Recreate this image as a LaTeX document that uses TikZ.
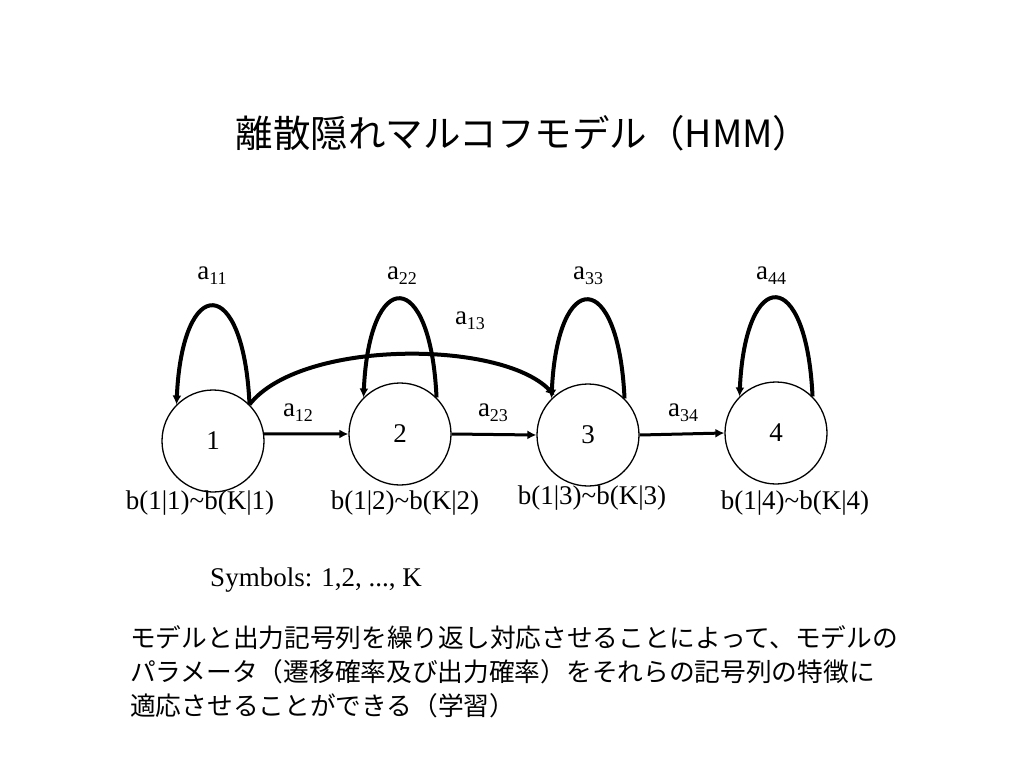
\documentclass[tikz,border=0pt]{standalone}
\usepackage{fontspec}
\setmainfont{Liberation Serif}
\newfontfamily\jpfont{Noto Sans CJK JP}
\usetikzlibrary{arrows.meta}
\tikzset{hmmstate/.style={circle, draw, line width=1.3pt, minimum size=102pt, inner sep=0pt}}
\tikzset{trans/.style={line width=4pt, -{Latex[length=9pt,width=9pt]}}}
\tikzset{fwd/.style={line width=3pt, -{Latex[length=9pt,width=9pt]}}}
\tikzset{lab/.style={inner sep=0pt, font=\fontsize{27}{27}\selectfont}}
\newcommand{\lowidx}[1]{\raisebox{-5pt}{\fontsize{18}{18}\selectfont #1}}

\begin{document}
\begin{tikzpicture}[x=1pt,y=-1pt]
  \useasboundingbox (0,0) rectangle (1024,768);
  \node[inner sep=0pt, font=\jpfont\fontsize{37.5}{37.5}\selectfont] (title) at (523,133) {離散隠れマルコフモデル（HMM）};

  \foreach \x/\y/\lab in {
    213/441/1,
    400/434/2,
    588/435/3,
    776/433/4%
  } {
    \node[hmmstate, lab] (s\lab) at (\x, \y) {\lab};
  }

  % output probabilities
  \foreach \x/\y/\lab in {
    200/503/1,
    405/503/2,
    592/498/3,
    795/503/4%
  } {
    \node[lab] (out\lab) at (\x, \y) {b(1|\lab)\char`\~b(K|\lab)};
  }

  % transition labels
  \foreach \x/\y/\lab in {
    212/276/11,
    402/276/22,
    588/276/33,
    771/276/44,
    470/321/13,
    298/413/12,
    493/413/23,
    683/413/34%
  } {
    \node[lab] (a\lab) at (\x, \y) {a\lowidx{\lab}};
  }

  \foreach \u in {1,...,4}{
    \draw[trans] (s\u.45) .. controls +(-6,-131) and +(6,-131) .. (s\u.135);
  }
  \draw[trans] (s1.45) .. controls +(51,-65) and +(-55,-56) .. (s3.130);

  \foreach \u/\v in {
    s1.8/s2.west,
    s2.east/s3.west,
    s3.east/s4.west%
  }{
    \draw[fwd] (\u) -- (\v);
  }

  \node[lab] (sym) at (316,580) {Symbols: 1,2, ..., K};
  \node[inner sep=0pt, anchor=west, align=left, font=\jpfont\fontsize{25.7}{34}\selectfont] (txt) at (130,672)
    {モデルと出力記号列を繰り返し対応させることによって、モデルの\\
     パラメータ（遷移確率及び出力確率）をそれらの記号列の特徴に\\
     適応させることができる（学習）};
\end{tikzpicture}
\end{document}
